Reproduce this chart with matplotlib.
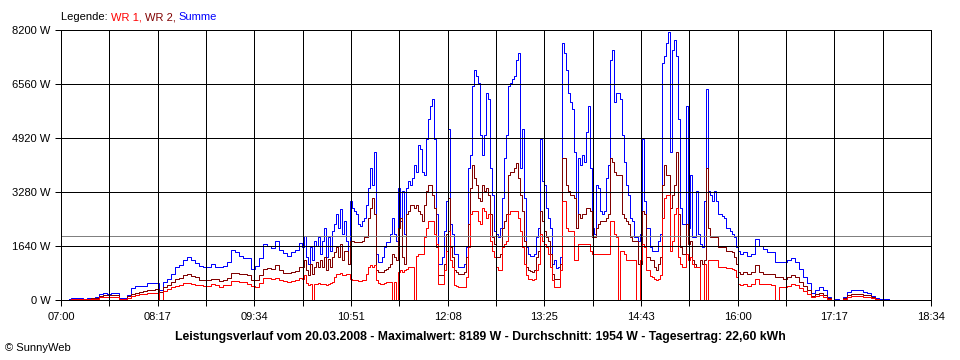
import matplotlib.pyplot as plt
import numpy as np

plt.rcParams['font.family'] = ['Liberation Sans', 'DejaVu Sans']

# three pieces of the day, read at different spacing (minutes after midnight)
# morning: every 3.19 min from 07:06, midday: every 1.6 min from 10:13,
# afternoon: every 3.19 min from 16:02
morning_start, morning_step = 426.4, 3.19
midday_start, midday_step = 613.0, 1.595
evening_start, evening_step = 962.4, 3.19

summe_morning = [
    30, 70, 60, 60, 40, 60, 75, 90, 180, 200,
    190, 200, 200, 60, 60, 150, 370, 425, 425, 440,
    520, 520, 530, 300, 550, 640, 790, 1000, 1060, 1215,
    1310, 1215, 1120, 1030, 1000, 1000, 1090, 1000, 1000, 1030,
    1150, 1520, 1460, 1340, 1280, 1280, 940, 1030, 1280, 1700,
    1640, 1580, 1790, 1520, 1430, 1340, 1460, 1520, 1730,
]
wr2_morning = [
    15, 45, 40, 40, 30, 40, 50, 60, 135, 140,
    140, 140, 150, 40, 40, 110, 180, 210, 230, 270,
    300, 300, 320, 240, 400, 460, 550, 640, 670, 760,
    790, 730, 700, 610, 610, 610, 650, 640, 580, 610,
    670, 820, 820, 790, 790, 760, 610, 610, 760, 940,
    970, 940, 1060, 910, 820, 820, 850, 880, 1000,
]
wr1_morning = [
    10, 30, 25, 25, 20, 25, 30, 40, 90, 100,
    100, 100, 100, 30, 25, 70, 120, 150, 180, 180,
    210, 210, 220, 0, 280, 330, 400, 440, 460, 520,
    530, 490, 460, 450, 430, 430, 490, 460, 410, 460,
    470, 590, 580, 550, 550, 490, 430, 410, 520, 670,
    670, 650, 680, 610, 580, 550, 580, 610, 670,
]

summe_midday = [
    1600, 1950, 1300, 1100, 1600, 1200, 1800, 1650, 1900, 1400,
    1800, 2200, 1300, 1900, 1500, 2100, 2300, 2600, 2200, 2750,
    2000, 2400, 1800, 1100, 3000, 2800, 2700, 2600, 2300, 2250,
    2400, 2500, 2900, 3400, 4000, 3500, 4500, 1400, 1150, 1150,
    1300, 1600, 1750, 1750, 2000, 2500, 2000, 1800, 3400, 2400,
    3300, 2000, 3400, 3600, 3500, 3700, 4100, 3900, 4700, 4600,
    3900, 3800, 4900, 5500, 5900, 6100, 4900, 2600, 1100, 1100,
    1300, 2100, 3000, 5200, 2300, 2000, 1400, 1400, 1000, 1000,
    1000, 1100, 1600, 4000, 4400, 6500, 7000, 6800, 6600, 5000,
    4400, 5000, 6300, 6100, 4000, 3200, 2100, 2000, 1900, 2200,
    3100, 4300, 5000, 6500, 6600, 6700, 6800, 7300, 7500, 4000,
    5200, 3100, 1600, 1400, 1350, 1350, 1400, 1900, 2200, 4900,
    3600, 3500, 2800, 2500, 2200, 1100, 1200, 980, 1000, 1300,
    7800, 7500, 7000, 6300, 6000, 5800, 4500, 2200, 4300, 4100,
    4400, 4200, 5100, 5900, 4000, 2200, 2000, 3500, 3400, 2700,
    2600, 2700, 3700, 4100, 7300, 7600, 6000, 6300, 6300, 6100,
    5000, 4200, 3500, 3200, 2500, 2400, 1900, 1900, 1800, 2000,
    4900, 3000, 2200, 2200, 1600, 1500, 1500, 1500, 1800, 2000,
    7200, 7400, 7800, 8150, 4500, 7600, 7900, 7400, 5500, 2800,
    2300, 2300, 5900, 2200, 3800, 1900, 1900, 3300, 2000, 1700,
    1600, 3000, 6400, 3300, 3200, 3000, 3300, 3000, 2600, 2600,
    2550, 2500, 2200, 2200, 2100, 2000, 1900, 1600, 1500,
]
wr2_midday = [
    1000, 1200, 900, 750, 1100, 800, 1000, 1150, 1000, 1200,
    1000, 1300, 900, 1250, 1000, 1300, 1450, 1600, 1300, 1700,
    1200, 1500, 1500, 1100, 1800, 1800, 1750, 1750, 1750, 1750,
    1800, 1900, 1900, 2500, 2800, 3100, 2600, 900, 850, 850,
    850, 900, 950, 1000, 1100, 1400, 1300, 1200, 2200, 2500,
    1300, 1100, 2600, 2700, 2900, 2900, 2800, 2900, 2700, 2600,
    2400, 2900, 3300, 3500, 3500, 3200, 2800, 1600, 750, 750,
    750, 1100, 2000, 3100, 1600, 1300, 900, 850, 800, 780,
    780, 850, 1300, 2300, 3400, 4100, 3700, 3500, 3100, 3000,
    3500, 3300, 3400, 3200, 2600, 1900, 1700, 1300, 1300, 1400,
    2200, 2400, 2600, 3800, 3900, 3900, 4000, 4150, 3700, 3200,
    2700, 1800, 1000, 900, 870, 850, 900, 1300, 1500, 2700,
    2400, 2100, 1900, 1800, 1400, 800, 650, 650, 650, 1100,
    4300, 4300, 3500, 3300, 3200, 3200, 3100, 2200, 2600, 2500,
    2600, 2600, 2800, 2800, 2700, 1900, 1900, 2200, 2300, 2400,
    2400, 2400, 2500, 2600, 4300, 4200, 3900, 3800, 3800, 3800,
    2600, 2500, 2400, 2300, 1900, 1800, 1800, 1800, 1100, 1100,
    2700, 2600, 1300, 1300, 1200, 1200, 1000, 900, 1100, 1300,
    3500, 4100, 3800, 3800, 2800, 3200, 3500, 4500, 2600, 1600,
    1400, 1400, 2300, 1700, 1800, 1200, 1100, 1000, 1000, 1200,
    1100, 1200, 4000, 2200, 1900, 1900, 1900, 1900, 1600, 1600,
    1600, 1600, 1500, 1500, 1500, 1450, 1300, 1100, 850,
]
wr1_midday = [
    650, 760, 520, 450, 500, 0, 480, 500, 520, 500,
    500, 480, 470, 500, 520, 550, 700, 800, 780, 820,
    760, 750, 780, 800, 650, 620, 600, 600, 580, 580,
    600, 620, 800, 1000, 1050, 1000, 1050, 600, 520, 500,
    500, 520, 550, 550, 550, 0, 550, 0, 850, 900,
    850, 900, 950, 1000, 1000, 1000, 0, 1350, 1400, 1400,
    1400, 1900, 2200, 2400, 2400, 2400, 2000, 1700, 500, 500,
    500, 900, 1500, 2100, 1200, 1000, 450, 420, 400, 380,
    380, 400, 700, 1600, 2600, 2700, 2700, 2700, 2400, 2300,
    2800, 2700, 2500, 2600, 1800, 1500, 1300, 1000, 900, 900,
    1600, 1700, 1800, 2600, 2700, 2700, 2700, 2700, 2500, 2100,
    1600, 1100, 750, 650, 640, 620, 650, 900, 1100, 2000,
    1800, 1700, 1600, 1400, 1000, 600, 400, 400, 400, 900,
    3000, 3000, 2200, 2100, 2100, 2100, 1200, 1200, 1700, 1700,
    1700, 1700, 1700, 1700, 1500, 1400, 1400, 1400, 1400, 1400,
    1400, 1400, 1400, 1400, 2400, 2400, 2000, 1900, 0, 1500,
    1500, 1400, 1200, 1200, 1200, 1200, 1200, 0, 0, 1200,
    1700, 1600, 900, 900, 720, 700, 650, 600, 650, 750,
    2500, 3100, 3200, 3200, 1500, 1800, 2600, 2800, 1300, 1100,
    1000, 1000, 1400, 1200, 1300, 1100, 1000, 1000, 1000, 0,
    0, 1100, 0, 1200, 1200, 1200, 1200, 1200, 1000, 1000,
    1000, 1000, 980, 980, 960, 950, 900, 700, 480,
]

summe_evening = [
    1400, 1450, 1350, 1400, 1850, 1650, 1550, 1450, 1450, 1150,
    1150, 1150, 1200, 1280, 1150, 950, 700, 520, 200, 300,
    380, 300, 100, 10, 20, 10, 100, 250, 300, 300,
    290, 240, 220, 130, 60, 30, 20, 20,
]
wr2_evening = [
    800, 850, 780, 850, 1050, 850, 800, 800, 800, 700,
    700, 650, 700, 770, 700, 560, 420, 300, 120, 190,
    200, 150, 60, 5, 10, 5, 60, 150, 170, 170,
    170, 160, 140, 80, 40, 15, 10, 10,
]
wr1_evening = [
    450, 480, 430, 480, 650, 500, 480, 480, 470, 0,
    400, 380, 420, 500, 450, 350, 260, 170, 100, 130,
    140, 100, 40, 0, 5, 0, 40, 100, 110, 110,
    110, 100, 90, 50, 20, 10, 5, 5,
]

tick_labels = ['07:00', '', '08:17', '', '09:34', '', '10:51', '', '12:08', '',
               '13:25', '', '14:43', '', '16:00', '', '17:17', '', '18:34']
y_ticks = [0, 1640, 3280, 4920, 6560, 8200]
average = 1954

times = np.concatenate([
    morning_start + morning_step * np.arange(len(summe_morning)),
    midday_start + midday_step * np.arange(len(summe_midday)),
    evening_start + evening_step * np.arange(len(summe_evening)),
])
summe = summe_morning + summe_midday + summe_evening
wr2 = wr2_morning + wr2_midday + wr2_evening
wr1 = wr1_morning + wr1_midday + wr1_evening

px = 0.72  # one pixel at 100 dpi

fig = plt.figure(figsize=(9.6, 3.6), dpi=100, facecolor='white')
ax = fig.add_axes([61/960, 60/360, 870/960, 270/360])

ax.plot(times, summe, color='#0000ff', lw=px, drawstyle='steps-mid', zorder=2)
ax.plot(times, wr2, color='#800000', lw=px, drawstyle='steps-mid', zorder=2)
ax.plot(times, wr1, color='#ff0000', lw=px, drawstyle='steps-mid', zorder=2)
ax.axhline(average, color='#808080', lw=px, zorder=2.2)

ax.set_xlim(420, 1114)
ax.set_ylim(0, 8200)
ax.set_xticks(np.linspace(420, 1114, len(tick_labels)))
ax.set_xticklabels(tick_labels)
ax.set_yticks(y_ticks)
ax.set_yticklabels([f'{v} W' for v in y_ticks])
ax.grid(True, color='black', lw=px, zorder=2.5)
ax.set_axisbelow(False)
for s in ax.spines.values():
    s.set_linewidth(px)
ax.tick_params(length=4.5, width=px, labelsize=8, pad=3, colors='black')
ax.tick_params(axis='x', pad=4)

# legend line at the top, in coloured pieces
r = fig.canvas.get_renderer()
x = 61 / 960
for txt, col in [('Legende: ', 'black'), ('WR 1, ', '#ff0000'),
                 ('WR 2, ', '#800000'), ('Summe', '#0000ff')]:
    t = fig.text(x, 1 - 17/360, txt, color=col, fontsize=8, va='center')
    x += t.get_window_extent(r).width / 960

fig.text(0.5, 1 - 337/360,
         'Leistungsverlauf vom 20.03.2008 - Maximalwert: 8189 W - '
         'Durchschnitt: 1954 W - Tagesertrag: 22,60 kWh',
         ha='center', va='center', fontsize=8.8, fontweight='bold')
fig.text(5/960, 1 - 348/360, '© SunnyWeb', fontsize=8, va='center')

fig.savefig('out.png', dpi=100)
